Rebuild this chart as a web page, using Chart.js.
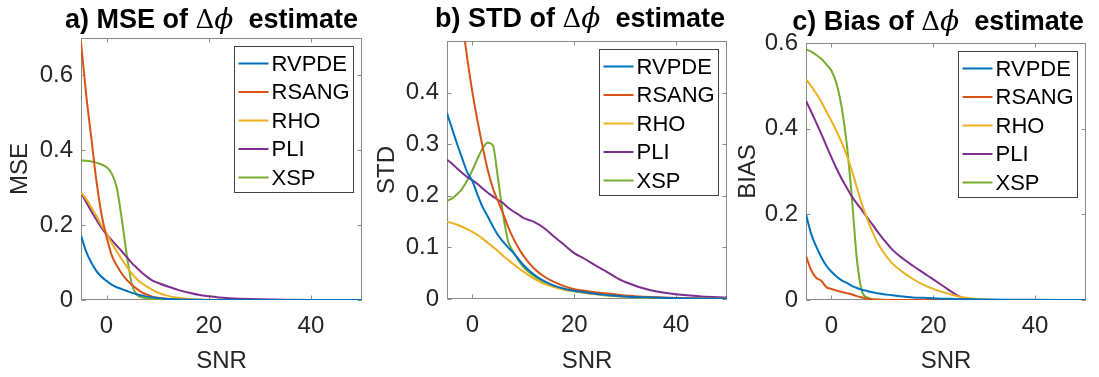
<!DOCTYPE html>
<html>
<head>
<meta charset="utf-8">
<script src="https://cdn.jsdelivr.net/npm/chart.js@4.4.1/dist/chart.umd.min.js"></script>
<style>
  html, body { margin: 0; padding: 0; background: #fff; }
  #wrap { position: relative; width: 1099px; height: 377px; overflow: hidden; }
  canvas { position: absolute; top: 0; }
</style>
</head>
<body>
<div id="wrap">
  <canvas id="cA" width="366" height="377" style="left:0px"></canvas>
  <canvas id="cB" width="366" height="377" style="left:366px"></canvas>
  <canvas id="cC" width="367" height="377" style="left:732px"></canvas>
</div>
<script>
// SNR grid (dB), shared by all three panels
var snr = [-5,-4,-3,-2,-1,0,1,2,3,4,5,6,7,8,9,10,12,14,16,18,20,22,24,26,28,30,35,40,45,50];

var methods = ['RVPDE', 'RSANG', 'RHO', 'PLI', 'XSP'];
var colors  = ['#0072BD', '#D95319', '#EDB120', '#7E2F8E', '#77AC30'];

var xTicks = [0, 20, 40];

// a) MSE
var mseRVPDE = [0.172,0.13,0.1,0.078,0.062,0.051,0.041,0.034,0.029,0.024,0.019,0.015,0.012,0.009,0.007,0.005,0.003,0.0015,0.0008,0.0004,0.0002,0.0001,0,0,0,0,0,0,0,0];
var mseRSANG = [0.69,0.55,0.435,0.32,0.23,0.169,0.12,0.092,0.07,0.053,0.04,0.029,0.02,0.014,0.009,0.006,0.003,0.0015,0.0007,0.0003,0.0001,0,0,0,0,0,0,0,0,0];
var mseRHO   = [0.287,0.27,0.248,0.225,0.2,0.178,0.152,0.13,0.108,0.088,0.07,0.055,0.044,0.035,0.027,0.02,0.011,0.006,0.003,0.0015,0.0007,0.0003,0.0001,0,0,0,0,0,0,0];
var msePLI   = [0.287,0.262,0.238,0.215,0.193,0.175,0.16,0.145,0.13,0.114,0.098,0.085,0.072,0.061,0.052,0.046,0.036,0.027,0.02,0.014,0.01,0.007,0.005,0.0035,0.0025,0.0018,0.0008,0.0003,0.0001,0];
var mseXSP   = [0.373,0.372,0.37,0.367,0.362,0.355,0.338,0.3,0.215,0.116,0.04,0.013,0.007,0.004,0.002,0.001,0.0005,0,0,0,0,0,0,0,0,0,0,0,0,0];
var mseTicks = [0, 0.2, 0.4, 0.6];

// b) STD
var stdRVPDE = [0.36,0.33,0.3,0.272,0.245,0.228,0.202,0.178,0.16,0.141,0.124,0.111,0.1,0.09,0.078,0.066,0.048,0.035,0.026,0.02,0.016,0.013,0.01,0.008,0.0065,0.005,0.003,0.0015,0.0008,0.0004];
var stdRSANG = [0.83,0.73,0.63,0.54,0.465,0.4,0.345,0.295,0.25,0.215,0.19,0.166,0.14,0.118,0.1,0.084,0.06,0.044,0.033,0.025,0.019,0.016,0.013,0.011,0.009,0.007,0.004,0.002,0.001,0.0005];
var stdRHO   = [0.15,0.147,0.144,0.14,0.135,0.13,0.124,0.117,0.109,0.101,0.093,0.084,0.076,0.068,0.06,0.053,0.04,0.03,0.023,0.018,0.015,0.012,0.0095,0.0075,0.006,0.0045,0.0025,0.0013,0.0007,0.0004];
var stdPLI   = [0.27,0.262,0.253,0.244,0.236,0.23,0.223,0.214,0.206,0.199,0.192,0.186,0.177,0.17,0.164,0.157,0.15,0.138,0.121,0.105,0.089,0.078,0.066,0.055,0.043,0.033,0.017,0.009,0.005,0.003];
var stdXSP   = [0.19,0.195,0.203,0.214,0.23,0.25,0.272,0.292,0.303,0.298,0.235,0.165,0.112,0.092,0.075,0.062,0.045,0.033,0.025,0.019,0.015,0.012,0.0095,0.0075,0.006,0.0045,0.0025,0.0013,0.0007,0.0004];
var stdTicks = [0, 0.1, 0.2, 0.3, 0.4];

// c) Bias
var biasRVPDE = [0.2,0.155,0.125,0.1,0.08,0.066,0.055,0.046,0.04,0.033,0.028,0.024,0.021,0.018,0.016,0.014,0.011,0.008,0.006,0.005,0.004,0.003,0.0025,0.002,0.0015,0.001,0.0005,0.0003,0.0002,0.0001];
var biasRSANG = [0.103,0.07,0.052,0.045,0.03,0.026,0.022,0.019,0.016,0.013,0.009,0.006,0.003,0.001,0.0003,0,0,0,0,0,0,0,0,0,0,0,0,0,0,0];
var biasRHO   = [0.515,0.5,0.482,0.463,0.44,0.418,0.394,0.368,0.338,0.302,0.262,0.223,0.19,0.16,0.135,0.115,0.085,0.065,0.049,0.036,0.026,0.018,0.011,0.006,0.003,0.001,0,0,0,0];
var biasPLI   = [0.465,0.44,0.414,0.388,0.36,0.333,0.307,0.283,0.262,0.242,0.225,0.21,0.193,0.177,0.16,0.145,0.117,0.097,0.08,0.064,0.048,0.032,0.016,0.004,0.001,0,0,0,0,0];
var biasXSP   = [0.585,0.58,0.572,0.563,0.55,0.535,0.505,0.45,0.365,0.24,0.095,0.02,0.006,0.002,0.001,0.0005,0,0,0,0,0,0,0,0,0,0,0,0,0,0];
var biasTicks = [0, 0.2, 0.4, 0.6];

var FONT = '"Liberation Sans", Arial, sans-serif';
var TEXT = '#262626';

// per-canvas drawing info (title and legend), looked up by canvas id
var deco = {};

function titleParts(tag, word) {
  var bold = 'bold 27px ' + FONT;
  return [
    { t: tag, f: bold },
    { t: ' ' + word + ' of ', f: bold },
    { t: '\u0394', f: '26px "DejaVu Serif"' },
    { t: '\u03d5', f: 'italic 28px "DejaVu Serif"' },
    { t: '  estimate', f: bold }
  ];
}

var panelPlugin = {
  id: 'panelDeco',
  beforeDatasetsDraw: function(chart) {
    // axes box with inward ticks on all sides
    var a = chart.chartArea, ctx = chart.ctx;
    var xs = chart.scales.x, ys = chart.scales.y;
    var L = Math.round(a.left) + 0.5, R = Math.round(a.right) - 0.5;
    var T = Math.round(a.top) + 0.5, B = Math.round(a.bottom) - 0.5;
    ctx.save();
    ctx.strokeStyle = '#8a8a8a';
    ctx.lineWidth = 1;
    ctx.strokeRect(L, T, R - L, B - T);
    ctx.beginPath();
    xs.ticks.forEach(function(t) {
      var px = Math.round(xs.getPixelForValue(t.value)) + 0.5;
      ctx.moveTo(px, B); ctx.lineTo(px, B - 4);
      ctx.moveTo(px, T); ctx.lineTo(px, T + 4);
    });
    ys.ticks.forEach(function(t) {
      var py = Math.round(ys.getPixelForValue(t.value)) + 0.5;
      ctx.moveTo(L, py); ctx.lineTo(L + 4, py);
      ctx.moveTo(R, py); ctx.lineTo(R - 4, py);
    });
    ctx.stroke();
    ctx.restore();
  },
  afterDatasetsDraw: function(chart) {
    var a = chart.chartArea, ctx = chart.ctx;
    var d = deco[chart.canvas.id];

    // legend box, top right inside the axes
    var bw = 119, bh = 146;
    var bx = Math.round(a.right) - 9 - bw + 0.5, by = Math.round(a.top) + 8 + 0.5;
    ctx.save();
    ctx.fillStyle = '#fff';
    ctx.fillRect(bx, by, bw, bh);
    ctx.strokeStyle = '#404040';
    ctx.lineWidth = 1;
    ctx.strokeRect(bx, by, bw, bh);
    ctx.font = '22px ' + FONT;
    ctx.textBaseline = 'middle';
    ctx.textAlign = 'left';
    chart.data.datasets.forEach(function(ds, i) {
      var cy = by + 17 + i * 28.5;
      ctx.strokeStyle = ds.borderColor;
      ctx.lineWidth = 2;
      ctx.beginPath();
      ctx.moveTo(bx + 4, cy); ctx.lineTo(bx + 34, cy);
      ctx.stroke();
      ctx.fillStyle = '#000';
      ctx.fillText(ds.label, bx + 37, cy + 1);
    });

    // title with greek letters
    var parts = d.title, w = 0;
    parts.forEach(function(p) { ctx.font = p.f; p.w = ctx.measureText(p.t).width; w += p.w; });
    var x = (a.left + a.right) / 2 + d.shift - w / 2;
    ctx.fillStyle = '#000';
    ctx.textBaseline = 'alphabetic';
    parts.forEach(function(p) {
      ctx.font = p.f;
      ctx.fillText(p.t, x, d.baseline);
      x += p.w;
    });
    ctx.restore();
  }
};

function makeSeries(lists) {
  return lists.map(function(vals, i) {
    return {
      label: methods[i],
      data: snr.map(function(x, j) { return { x: x, y: vals[j] }; }),
      borderColor: colors[i],
      backgroundColor: colors[i],
      borderWidth: 2,
      pointRadius: 0,
      fill: false,
      cubicInterpolationMode: 'monotone'
    };
  });
}

function makeChart(id, lists, yMax, yTicks, yLabel, g) {
  deco[id] = { title: g.title, baseline: g.baseline, shift: g.shift };
  return new Chart(document.getElementById(id), {
    type: 'line',
    data: { datasets: makeSeries(lists) },
    plugins: [panelPlugin],
    options: {
      responsive: false,
      animation: false,
      layout: { padding: { top: g.top, right: g.right, left: 0, bottom: 0 } },
      plugins: { legend: { display: false }, title: { display: false }, tooltip: { enabled: false } },
      scales: {
        x: {
          type: 'linear', min: -5, max: 50,
          grid: { display: false, drawTicks: false },
          border: { display: false },
          afterBuildTicks: function(s) { s.ticks = xTicks.map(function(v) { return { value: v }; }); },
          afterFit: function(s) { s.height = g.xH; },
          ticks: { color: TEXT, font: { family: FONT, size: 24 }, padding: 12, maxRotation: 0,
                   callback: function(v) { return String(v); } },
          title: { display: true, text: 'SNR', color: TEXT, font: { family: FONT, size: 24 },
                   padding: { top: 0, bottom: 1 } }
        },
        y: {
          min: 0, max: yMax,
          grid: { display: false, drawTicks: false },
          border: { display: false },
          afterBuildTicks: function(s) { s.ticks = yTicks.map(function(v) { return { value: v }; }); },
          afterFit: function(s) { s.width = g.yW; },
          ticks: { color: TEXT, font: { family: FONT, size: 24 }, padding: 8,
                   callback: function(v) { return String(v); } },
          title: { display: true, text: yLabel, color: TEXT, font: { family: FONT, size: 24 },
                   padding: { top: g.yTitle, bottom: 0 } }
        }
      }
    }
  });
}

makeChart('cA', [mseRVPDE, mseRSANG, mseRHO, msePLI, mseXSP], 0.7, mseTicks, 'MSE',
  { title: titleParts('a)', 'MSE'), baseline: 28, shift: -10, top: 38, right: 4, yW: 81, xH: 77, yTitle: 6 });
makeChart('cB', [stdRVPDE, stdRSANG, stdRHO, stdPLI, stdXSP], 0.5, stdTicks, 'STD',
  { title: titleParts('b)', 'STD'), baseline: 27, shift: -7, top: 41, right: 5, yW: 81, xH: 78, yTitle: 7 });
makeChart('cC', [biasRVPDE, biasRSANG, biasRHO, biasPLI, biasXSP], 0.6, biasTicks, 'BIAS',
  { title: titleParts('c)', 'Bias'), baseline: 30, shift: -8, top: 43, right: 13, yW: 74, xH: 77, yTitle: 2 });
</script>
</body>
</html>
